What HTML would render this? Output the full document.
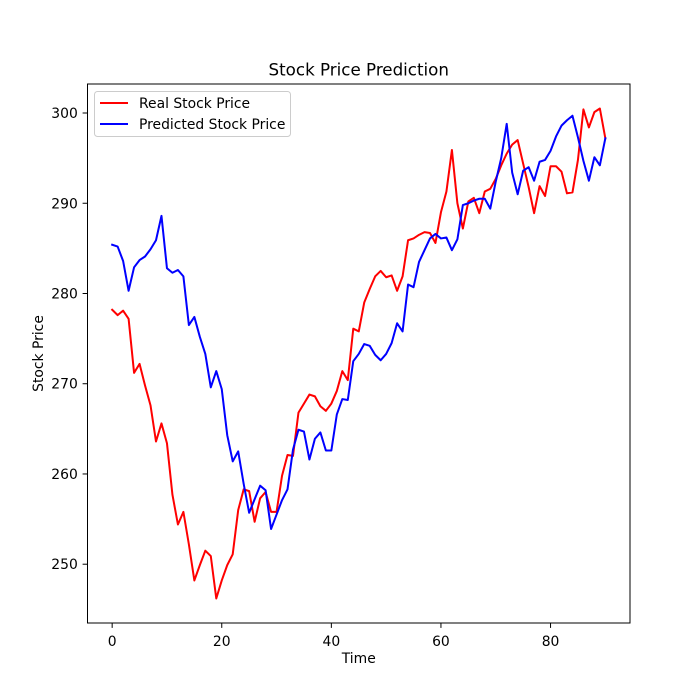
<!DOCTYPE html>
<html><head><meta charset="utf-8"><style>
body{margin:0;background:#fff}
svg{display:block;font-family:"DejaVu Sans","Liberation Sans",sans-serif}
</style></head><body>
<svg id="chart" width="700" height="700" viewBox="0 0 700 700">
<rect x="0" y="0" width="700" height="700" fill="#fff"/>
<g id="plot"></g>
</svg>
<script>
const xTicks=[0,20,40,60,80];
const yTicks=[250,260,270,280,290,300];
const realPrice=[278.2,277.6,278.1,277.2,271.2,272.2,269.8,267.6,263.6,265.6,263.4,257.7,254.4,255.8,252.2,248.2,249.9,251.5,250.9,246.2,248.2,249.9,251.1,256.0,258.3,258.1,254.7,257.3,258.0,255.8,255.8,259.8,262.1,262.0,266.8,267.8,268.8,268.6,267.5,267.0,267.8,269.2,271.4,270.4,276.1,275.8,279.0,280.5,281.9,282.5,281.8,282.0,280.3,281.9,285.9,286.1,286.5,286.8,286.7,285.6,289.0,291.3,295.9,290.0,287.2,290.2,290.6,288.9,291.3,291.6,292.7,294.2,295.5,296.5,297.0,294.4,291.8,288.9,291.9,290.8,294.1,294.1,293.5,291.1,291.2,294.8,300.4,298.4,300.1,300.5,297.2];
const predPrice=[285.4,285.2,283.6,280.3,282.9,283.7,284.1,284.9,285.9,288.6,282.8,282.3,282.6,281.9,276.5,277.4,275.2,273.3,269.6,271.4,269.4,264.3,261.4,262.5,258.9,255.7,257.2,258.7,258.2,253.9,255.5,257.1,258.3,262.7,264.9,264.7,261.6,263.9,264.6,262.6,262.6,266.6,268.3,268.2,272.5,273.3,274.4,274.2,273.2,272.6,273.3,274.5,276.7,275.8,281.0,280.7,283.5,284.8,286.1,286.6,286.1,286.2,284.8,286.0,289.8,290.0,290.3,290.5,290.5,289.4,292.4,295.0,298.8,293.4,291.0,293.6,294.0,292.5,294.6,294.8,295.8,297.4,298.6,299.2,299.7,297.3,294.7,292.5,295.1,294.2,297.2];

const L=87.5,R=630,T=84,B=623;
const n=realPrice.length;
const xmin=-(n-1)*0.05,xmax=(n-1)*1.05;
const all=realPrice.concat(predPrice);
let dmin=Math.min(...all),dmax=Math.max(...all),pad=(dmax-dmin)*0.05;
const ymin=dmin-pad,ymax=dmax+pad;
const sx=v=>L+(v-xmin)/(xmax-xmin)*(R-L);
const sy=v=>B-(v-ymin)/(ymax-ymin)*(B-T);
const NS='http://www.w3.org/2000/svg';
const g=document.getElementById('plot');
function mk(tag,attrs,parent){const e=document.createElementNS(NS,tag);for(const k in attrs)e.setAttribute(k,attrs[k]);(parent||g).appendChild(e);return e;}

function series(data,color,name){
  const p=mk('polyline',{points:data.map((v,i)=>sx(i)+','+sy(v)).join(' '),fill:'none',stroke:color,'stroke-width':2,'stroke-linejoin':'round','stroke-linecap':'square'});
  
  
}
series(realPrice,'#ff0000','real-price-line');
series(predPrice,'#0000ff','predicted-price-line');

const frame=mk('rect',{x:L,y:T,width:R-L,height:B-T,fill:'none',stroke:'#000','stroke-width':1});



xTicks.forEach(t=>{
  const x=sx(t);
  mk('line',{x1:x,x2:x,y1:B,y2:B+4.9,stroke:'#000','stroke-width':1});
  const tx=mk('text',{x:x,y:B+23,'text-anchor':'middle','font-size':13.9,fill:'#000'});
  tx.textContent=t;
  
  
});
yTicks.forEach(t=>{
  const y=sy(t);
  mk('line',{x1:L-4.9,x2:L,y1:y,y2:y,stroke:'#000','stroke-width':1});
  const tx=mk('text',{x:L-9.7,y:y+5,'text-anchor':'end','font-size':13.9,fill:'#000'});
  tx.textContent=t;
  
  
});

const title=mk('text',{x:(L+R)/2,y:T-8.3,'text-anchor':'middle','font-size':16.7,fill:'#000'});
title.textContent='Stock Price Prediction';


const xl=mk('text',{x:(L+R)/2,y:663,'text-anchor':'middle','font-size':13.9,fill:'#000'});
xl.textContent='Time';


const yl=mk('text',{x:0,y:0,'text-anchor':'middle','font-size':13.9,fill:'#000',transform:'translate(43,'+((T+B)/2)+') rotate(-90)'});
yl.textContent='Stock Price';



const leg=mk('g',{});


mk('rect',{x:94.5,y:91.5,width:196,height:45,rx:3,fill:'#fff','fill-opacity':0.8,stroke:'#ccc','stroke-width':1},leg);
[['Real Stock Price','#ff0000',103],['Predicted Stock Price','#0000ff',124]].forEach(([lab,c,y])=>{
  mk('line',{x1:100,x2:128,y1:y,y2:y,stroke:c,'stroke-width':2},leg);
  const t=mk('text',{x:139,y:y+5,'font-size':13.9,fill:'#000'},leg);
  t.textContent=lab;
  
  
});
</script>
</body></html>
